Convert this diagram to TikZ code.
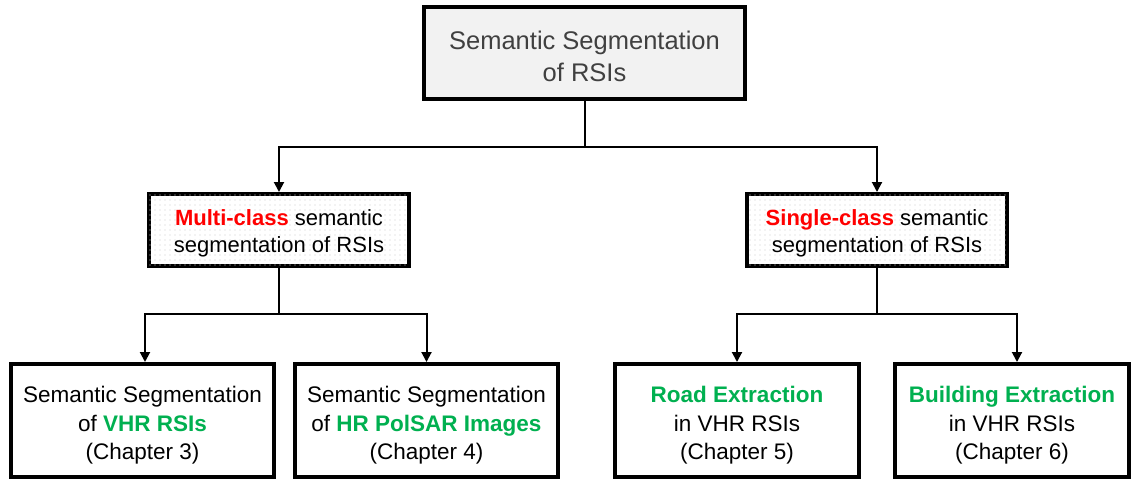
\documentclass[tikz,border=0pt]{standalone}
\usepackage{fontspec}
\setmainfont{Liberation Sans}
\usetikzlibrary{arrows.meta,patterns.meta}
\definecolor{hlred}{HTML}{FF0000}
\definecolor{hlgreen}{HTML}{00B050}
\definecolor{topgray}{HTML}{F2F2F2}
\definecolor{toptext}{HTML}{404040}
\newcommand{\red}[1]{\textcolor{hlred}{\bfseries #1}}
\newcommand{\grn}[1]{\textcolor{hlgreen}{\bfseries #1}}
% invisible strut that pads the first line of a box from above
\newcommand{\padtop}[1]{\rule{0pt}{#1}}
\begin{document}
\begin{tikzpicture}[x=1pt,y=-1pt,
  box/.style={draw=black, line width=4pt, align=center, inner sep=0pt},
  topbox/.style={box, fill=topgray, text=toptext,
    font=\fontsize{25.5}{32}\selectfont,
    minimum width=321pt, minimum height=92pt},
  midbox/.style={box, fill=white,
    postaction={pattern={Dots[radius=0.55pt,distance=5pt]}, pattern color=black!20},
    font=\fontsize{22}{27}\selectfont,
    minimum width=260pt, minimum height=72pt},
  leafbox/.style={box, fill=white,
    font=\fontsize{22.5}{28}\selectfont,
    minimum height=113pt},
  link/.style={line width=2pt, draw=black},
  arr/.style={link, -{Triangle[width=10pt,length=10pt]}}
]
\useasboundingbox (0,0) rectangle (1134,485);

% tree nodes
\node[topbox] (root) at (584.5,53) {\padtop{0.98em}Semantic Segmentation\\of RSIs};
\node[midbox] (multi) at (279,230) {\padtop{1.0em}\red{Multi-class} semantic\\segmentation of RSIs};
\node[midbox] (single) at (877,230) {\padtop{1.0em}\red{Single-class} semantic\\segmentation of RSIs};
\node[leafbox, minimum width=263pt] (vhr) at (142.5,420.5)
  {\padtop{1.14em}Semantic Segmentation\\of \grn{VHR RSIs}\\(Chapter 3)};
\node[leafbox, minimum width=263pt] (polsar) at (426.5,420.5)
  {\padtop{1.14em}Semantic Segmentation\\of \grn{HR PolSAR Images}\\(Chapter 4)};
\node[leafbox, minimum width=244pt] (road) at (737,420.5)
  {\padtop{1.14em}\grn{Road Extraction}\\in VHR RSIs\\(Chapter 5)};
\node[leafbox, minimum width=234pt] (bldg) at (1012,420.5)
  {\padtop{1.14em}\grn{Building Extraction}\\in VHR RSIs\\(Chapter 6)};

% branch points
\coordinate (j0) at (584.5,147);
\coordinate (j1) at (279,314);
\coordinate (j2) at (877,314);

% connectors
\draw[link] (root.south) -- (j0);
\draw[arr] (j0) -| (multi.north);
\draw[arr] (j0) -| (single.north);
\draw[link] (multi.south) -- (j1);
\draw[arr] (j1) -| ([xshift=2.5pt]vhr.north);
\draw[arr] (j1) -| (polsar.north);
\draw[link] (single.south) -- (j2);
\draw[arr] (j2) -| (road.north);
\draw[arr] (j2) -| ([xshift=5pt]bldg.north);
\end{tikzpicture}
\end{document}
